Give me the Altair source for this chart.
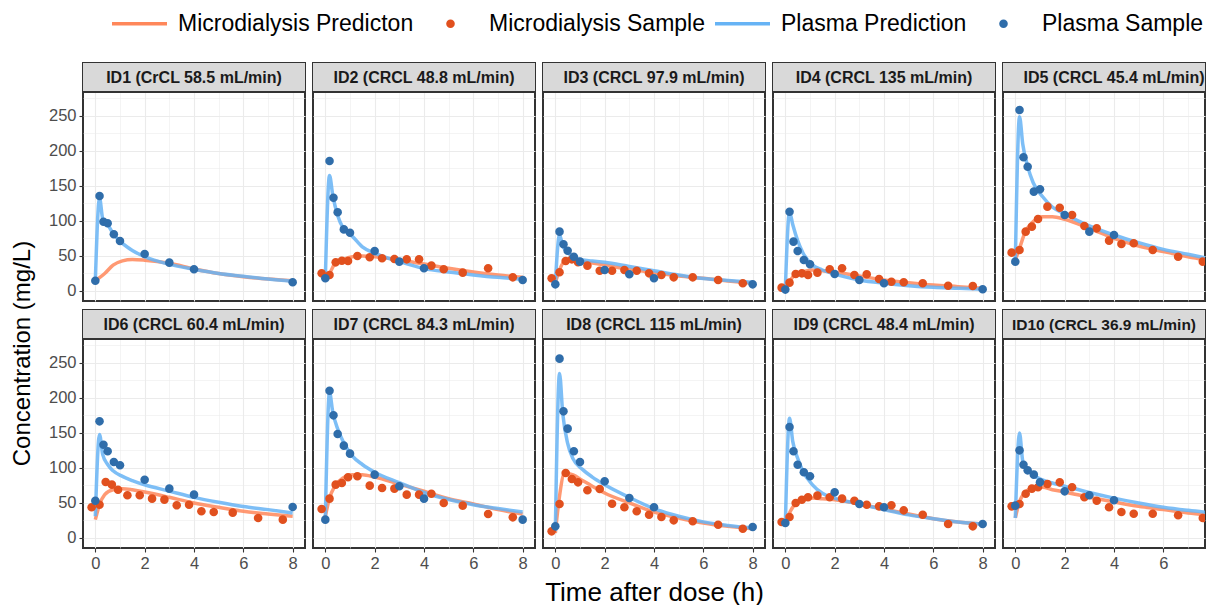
import altair as alt
import pandas as pd

# ---------------- data ----------------
STRIP_LABELS = [
    "ID1 (CrCL 58.5 mL/min)", "ID2 (CRCL 48.8 mL/min)", "ID3 (CRCL 97.9 mL/min)",
    "ID4 (CRCL 135 mL/min)", "ID5 (CRCL 45.4 mL/min)", "ID6 (CRCL 60.4 mL/min)",
    "ID7 (CRCL 84.3 mL/min)", "ID8 (CRCL 115 mL/min)", "ID9 (CRCL 48.4 mL/min)",
    "ID10 (CRCL 36.9 mL/min)",
]
SERIES = ["Microdialysis Predicton", "Microdialysis Sample", "Plasma Prediction", "Plasma Sample"]
COLORS = ["#FF875A", "#E1501E", "#66B3F5", "#2F6DAA"]

X_TICKS = [0, 1, 2, 3, 4, 5, 6, 7, 8]
Y_TICKS = [0, 25, 50, 75, 100, 125, 150, 175, 200, 225, 250, 275]

T_PLASMA_PRED = [0, 0.17, 0.3, 0.5, 0.72, 1.1, 1.5, 2, 3, 4, 5, 6, 7, 8]
PLASMA_PRED = [
    [15, 133, 103, 95, 82, 68, 58, 49, 38, 31, 25, 21, 17, 14],
    [18, 165, 137, 108, 90, 78, 63, 54, 42, 32, 27, 23, 19.5, 16.7],
    [10, 80, 65, 55, 49, 44.3, 43, 41, 35, 29, 23, 18, 15, 12.4],
    [3, 113, 95, 72, 54, 37, 30, 24, 15.7, 11, 7.6, 5.2, 3.8, 2.4],
    [42, 249, 210, 178, 155, 135, 120, 110, 93, 80, 69, 59.5, 52.4, 45.2],
    [31, 148, 119, 105, 96, 88, 82, 76, 67, 58, 51, 45, 40.5, 35.7],
    [28.6, 208, 180, 156, 138, 117, 105, 94, 79, 65, 55, 47.6, 42, 37],
    [9.5, 235, 178, 135, 113, 98, 87, 76, 58, 42, 31, 23, 18, 14.3],
    [19, 171, 138, 114, 95, 76, 64, 57, 48.6, 40.5, 33, 27.6, 23, 20],
    [28.6, 150, 110, 97, 90, 83, 78.5, 74, 65, 57, 50, 44, 39.5, 35.7],
]

T_MD_PRED = [0, 0.17, 0.38, 0.72, 1.1, 1.5, 2, 3, 4, 5, 6, 7, 8]
MD_PRED = [
    [15, 19, 25, 37, 43, 45, 44, 39.5, 31.5, 25, 20.5, 17, 14.7],
    [18, 25, 38.6, 45, 49, 50, 49, 44.3, 38.6, 32.4, 27.1, 22.9, 19.5],
    [12, 30, 43, 44.5, 42, 40, 37, 31, 26.2, 21.4, 18.1, 14.3, 11],
    [3.8, 13.3, 22.9, 27.6, 30, 29, 26.7, 21.4, 15.7, 11.9, 8.6, 6.2, 3.8],
    [44.3, 61, 82.4, 99, 106, 106, 102.4, 89.5, 75.2, 64.3, 56.2, 49, 42.9],
    [26.2, 47.6, 61.9, 69, 70.5, 69, 65.7, 58.1, 50, 43.8, 38.1, 34.3, 31],
    [31, 57, 73.8, 85.7, 90.5, 90.5, 87, 77, 66.7, 56, 48.6, 40.5, 34.3],
    [7.1, 60, 92.8, 90, 82, 74, 64.3, 50, 37.1, 28.6, 21.4, 16.6, 13.3],
    [20, 35.7, 47.6, 54.7, 57, 56, 54.7, 48.6, 41.4, 34.3, 27.6, 23, 20],
    [28.6, 52.4, 64.3, 71.4, 72.4, 69, 65.7, 58.1, 51.4, 45.2, 40.5, 35.7, 32.4],
]

T_PLASMA_OBS = [0, 0.17, 0.33, 0.5, 0.75, 1, 2, 3, 4, 8]
PLASMA_OBS = [
    [14.7, 135.7, 99, 96.7, 81, 71.4, 52.9, 40.5, 31, 12.4],
    [18.1, 185.7, 133.3, 112.4, 88, 83.3, 57.1, 41.9, 32.4, 15.7],
    [9.5, 84.8, 66.7, 57.6, 49, 41.9, 30, 23.8, 18.1, 9.5],
    [2, 113.3, 70.5, 57.1, 44.3, 38.1, 24.3, 15.7, 11, 2.4],
    [41.9, 258.6, 191, 177.6, 141.9, 145.2, 108.6, 84.8, 80, 33.8],
    [53.3, 166.6, 133.3, 123.8, 108.5, 103.8, 83.3, 70.5, 61.9, 44.3],
    [26.2, 210.4, 175.2, 148.6, 131.9, 120.5, 90.5, 73.8, 56.2, 26.2],
    [16.6, 256.2, 180.9, 156.2, 123.8, 108.5, 80.9, 57.1, 43.8, 15.7],
    [21.4, 158.5, 123.8, 104.7, 93.8, 88.1, 65.2, 48.6, 43.8, 20],
    [46.2, 125.2, 104.7, 96.6, 90.5, 79.5, 66.6, 61, 53.8, 36.6],
]

T_MD_OBS = [-0.15, 0.17, 0.42, 0.67, 0.92, 1.3, 1.8, 2.3, 2.8, 3.3, 3.8, 4.3, 4.8, 5.57, 6.6, 7.6]
MD_OBS = [
    [],
    [25.2, 22.9, 40.9, 43.3, 42.9, 50, 48.1, 46.7, 45.7, 45.2, 45.2, 36.2, 31, 26.2, 32.4, 19.5],
    [18.1, 26.7, 42.9, 45.2, 41, 36.2, 29, 29, 30, 29, 25.2, 22.9, 19.5, 19.5, 15.7, 11],
    [4.8, 11.9, 24.3, 25.2, 22.9, 26.2, 31, 32.4, 22.9, 23.8, 17.1, 13.3, 12.4, 11, 7.6, 7.1],
    [54.8, 58.6, 84.8, 91.9, 102.9, 120.5, 119, 108.6, 92.9, 89.5, 71.9, 67.1, 68.1, 58.6, 49, 41.9],
    [43.8, 47.6, 80, 76.2, 69, 61, 61, 56.2, 54.8, 46.7, 47.6, 38.1, 37.1, 36.2, 28.6, 26.2],
    [41.4, 56.2, 76.2, 78.6, 86.7, 88.1, 74.8, 71.4, 70.5, 61.9, 61.9, 63.3, 50, 46.2, 34.3, 29.5],
    [9.5, 48.6, 92.9, 84.3, 79.5, 68.1, 70, 49, 43.8, 38.1, 33.3, 30, 25.2, 23.8, 19, 13.3],
    [22.9, 30, 50, 54.7, 58.1, 60.5, 58.1, 56.2, 53.3, 47.6, 45.2, 46.7, 39.5, 33.3, 20, 16.6],
    [45.2, 48.6, 63.3, 70.5, 72.4, 77.1, 79.5, 72.4, 58.1, 53.3, 43.8, 37.1, 34.7, 34.7, 32.4, 28.6],
]

# ---------------- layout / style ----------------
W_FULL, W_LAST, H, STRIP_H = 222, 202, 238, 29
PX_PER_H = 222 / 9.0
PX_PER_UNIT = 0.7
Y_MIN = -14.3
X_MIN = -0.5
Y_DOMAIN = [Y_MIN, Y_MIN + H / PX_PER_UNIT]
FONT = "Liberation Sans"
SYM_SIZE = 484  # 22 px symbol box; paths below reach beyond it
# legend key: a 55 px bar; dot key: a small circle plus two empty move-to points so
# that every key spans the same 55 px width
LINE_PATH = "M-2.5,-0.16L2.5,-0.16L2.5,0.16L-2.5,0.16Z"
DOT_PATH = "M-2.5,0M2.5,0M-0.39,0A0.39,0.39 0 1,0 0.39,0A0.39,0.39 0 1,0 -0.39,0Z"

color_scale = alt.Scale(domain=SERIES, range=COLORS)
shape_scale = alt.Scale(domain=SERIES, range=[LINE_PATH, DOT_PATH, LINE_PATH, DOT_PATH])
stroke_scale = alt.Scale(domain=[SERIES[0], SERIES[2]], range=[COLORS[0], COLORS[2]])

legend = alt.Legend(
    title=None, orient="none", legendX=45, legendY=-51, direction="horizontal",
    columns=4, labelFont=FONT, labelFontSize=23, labelColor="black", labelOffset=27,
    columnPadding=9, symbolSize=SYM_SIZE, padding=0, labelLimit=400,
    symbolStrokeWidth=0,
)


def panel(i):
    row, col = divmod(i, 5)
    w = W_LAST if col == 4 else W_FULL
    x_max = X_MIN + w / PX_PER_H
    x_domain = [X_MIN, x_max]
    x_vals = [v for v in X_TICKS if v <= x_max]
    recs = []
    for t, v in zip(T_MD_PRED, MD_PRED[i]):
        recs.append({"t": t, "v": v, "series": SERIES[0], "kind": "pred"})
    for t, v in zip(T_PLASMA_PRED, PLASMA_PRED[i]):
        recs.append({"t": t, "v": v, "series": SERIES[2], "kind": "pred"})
    for t, v in zip(T_MD_OBS, MD_OBS[i]):
        recs.append({"t": t, "v": v, "series": SERIES[1], "kind": "obs"})
    for t, v in zip(T_PLASMA_OBS, PLASMA_OBS[i]):
        recs.append({"t": t, "v": v, "series": SERIES[3], "kind": "obs"})
    df = pd.DataFrame(recs)
    pred = df[df["kind"] == "pred"]
    obs = df[df["kind"] == "obs"]

    bottom = row == 1
    left = col == 0

    x_axis_kw = dict(
        values=x_vals, grid=True, gridColor="#EBEBEB",
        gridWidth={"condition": {"test": "datum.value % 2 === 0", "value": 1.1}, "value": 0.55},
        domain=False, labels=bottom, ticks=bottom,
        labelExpr="datum.value % 2 === 0 ? datum.label : ''",
        tickOpacity={"condition": {"test": "datum.value % 2 === 0", "value": 1}, "value": 0},
        tickSize=4, tickColor="#333333", tickWidth=1.1, labelPadding=3,
        labelFontSize=16.5, labelColor="#4D4D4D", labelFont=FONT,
        title=None,
    )
    if i == 7:
        x_axis_kw.update(title="Time after dose (h)", titleFont=FONT, titleFontSize=26,
                         titleFontWeight="normal", titleColor="black",
                         titleY=52, titleBaseline="alphabetic")
    y_axis_kw = dict(
        values=Y_TICKS, grid=True, gridColor="#EBEBEB",
        gridWidth={"condition": {"test": "datum.value % 50 === 0", "value": 1.1}, "value": 0.55},
        domain=False, labels=left, ticks=left,
        labelExpr="datum.value % 50 === 0 ? datum.label : ''",
        tickOpacity={"condition": {"test": "datum.value % 50 === 0", "value": 1}, "value": 0},
        tickSize=4, tickColor="#333333", tickWidth=1.1, labelPadding=3,
        labelFontSize=16.5, labelColor="#4D4D4D", labelFont=FONT,
        title=None,
    )
    if i == 5:
        y_axis_kw.update(title="Concentration (mg/L)", titleFont=FONT, titleFontSize=24,
                         titleFontWeight="normal", titleColor="black",
                         titleX=-54, titleY=43, titleAngle=270,
                         titleBaseline="alphabetic", titleAlign="center")

    X = alt.X("t:Q", scale=alt.Scale(domain=x_domain, nice=False, zero=False),
              axis=alt.Axis(**x_axis_kw))
    Y = alt.Y("v:Q", scale=alt.Scale(domain=Y_DOMAIN, nice=False, zero=False),
              axis=alt.Axis(**y_axis_kw))

    lines = alt.Chart(pred).mark_line(strokeWidth=3.5, opacity=0.85, interpolate="monotone",
                                      clip=True).encode(
        x=X, y=Y, stroke=alt.Stroke("series:N", scale=stroke_scale, legend=None),
    )
    points = alt.Chart(obs).mark_point(filled=True, size=SYM_SIZE, opacity=1, clip=True).encode(
        x=X, y=Y,
        color=alt.Color("series:N", scale=color_scale, legend=legend),
        shape=alt.Shape("series:N", scale=shape_scale, legend=legend),
    )
    lab = pd.DataFrame({"label": [STRIP_LABELS[i]]})
    strip = alt.Chart(lab).mark_rect(fill="#D9D9D9").encode(
        x=alt.value(0), x2=alt.value(w), y=alt.value(0), y2=alt.value(STRIP_H)
    )
    sep = alt.Chart(lab).mark_rule(color="#333333", strokeWidth=2).encode(
        x=alt.value(0), x2=alt.value(w), y=alt.value(STRIP_H)
    )
    long_label = len(STRIP_LABELS[i]) > 22 and col == 4
    txt_x = w / 2 if long_label else W_FULL / 2
    txt_size = 15.5 if long_label else 16
    txt = alt.Chart(lab).mark_text(font=FONT, fontSize=txt_size, fontWeight="bold", color="#1A1A1A",
                                   align="center", baseline="middle", clip=True).encode(
        x=alt.value(txt_x), y=alt.value(STRIP_H / 2 + 0.5), text="label:N"
    )
    return alt.layer(lines, points, strip, sep, txt).properties(width=w, height=H)


chart = alt.concat(
    *[panel(i) for i in range(10)], columns=5,
    spacing={"row": 9, "column": 8}, bounds="flush",
).properties(
    padding={"left": 0, "top": 4, "right": 0, "bottom": 0}
).configure_view(
    stroke="#333333", strokeWidth=2
)

chart.save("out.html", embed_options={"renderer": "svg", "actions": False})
